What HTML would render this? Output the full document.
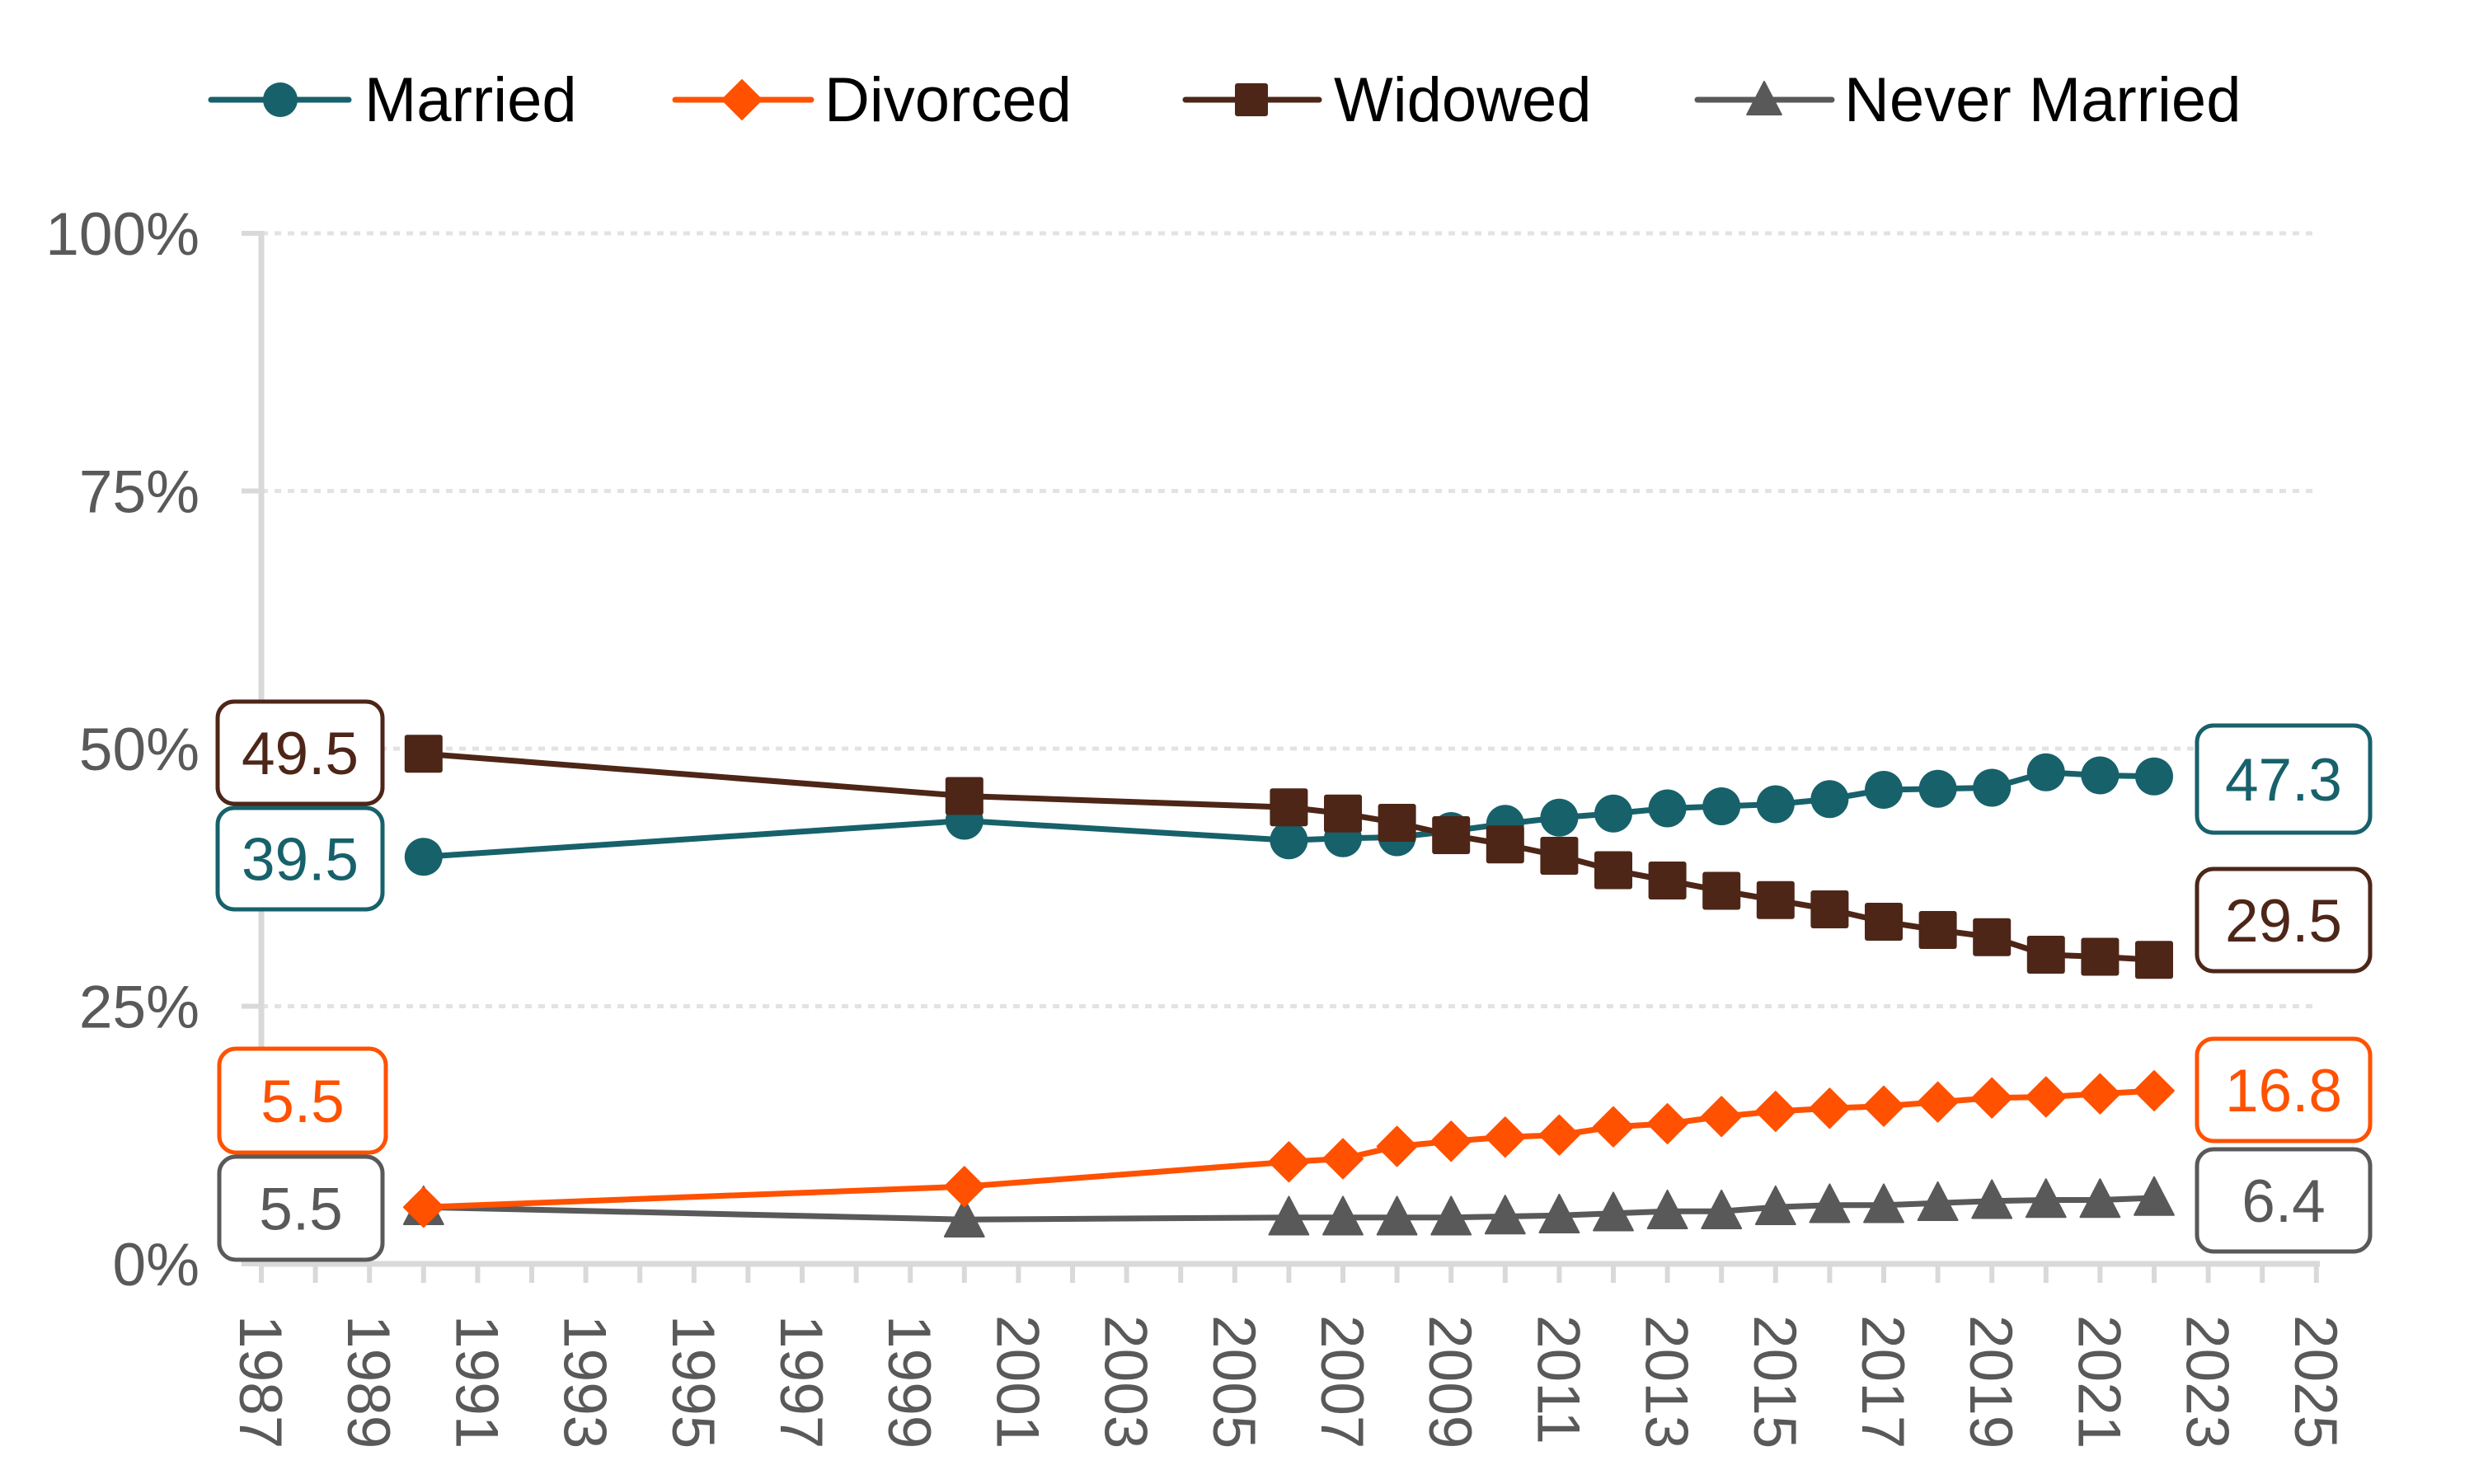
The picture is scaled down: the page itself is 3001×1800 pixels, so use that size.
<!DOCTYPE html>
<html><head><meta charset="utf-8"><style>
html,body{margin:0;padding:0;background:#fff}
svg{display:block}
text{font-family:"Liberation Sans",Arial,sans-serif}
</style></head><body>
<svg id="c" xmlns="http://www.w3.org/2000/svg" width="3001" height="1800" viewBox="0 0 3001 1800">
<rect width="3001" height="1800" fill="#fff"/>
<g id="grid"></g>
<g id="axes"></g>
<g id="series"></g>
<g id="labels"></g>
<g id="legend"></g>
</svg>
<script>
const NS="http://www.w3.org/2000/svg";
function el(p,tag,attrs,txt){const e=document.createElementNS(NS,tag);for(const k in attrs)e.setAttribute(k,attrs[k]);if(txt!==undefined)e.textContent=txt;document.getElementById(p).appendChild(e);return e;}
const X0=317,PX=65.6,Y0=1533,PY=12.5;
const xf=y=>X0+(y-1987)*PX, yf=v=>Y0-v*PY;
// grid
[25,50,75,100].forEach(v=>{el("grid","line",{x1:X0,x2:2811,y1:yf(v),y2:yf(v),stroke:"#e3e3e3","stroke-width":5,"stroke-dasharray":"8 8"});});
[0,25,50,75,100].forEach(v=>{el("axes","text",{x:242,y:yf(v)+26,"text-anchor":"end","font-size":73,fill:"#595959"},v+"%");
 el("axes","line",{x1:293,x2:X0,y1:yf(v),y2:yf(v),stroke:"#d9d9d9","stroke-width":6});});
el("axes","line",{x1:X0,x2:X0,y1:280,y2:Y0,stroke:"#d9d9d9","stroke-width":7});
el("axes","line",{x1:X0,x2:2814,y1:Y0,y2:Y0,stroke:"#d9d9d9","stroke-width":7});
for(let y=1987;y<=2025;y++){el("axes","line",{x1:xf(y),x2:xf(y),y1:Y0,y2:1556,stroke:"#d9d9d9","stroke-width":6});}
for(let y=1987;y<=2025;y+=2){el("axes","text",{transform:`translate(${xf(y)-26},1595) rotate(90)`,"font-size":73,fill:"#595959"},String(y));}
const yrs=[1990,2000,2006,2007,2008,2009,2010,2011,2012,2013,2014,2015,2016,2017,2018,2019,2020,2021,2022];
const S={
 m:{c:"#17616B",shape:"circle",d:[39.5,43.0,41.1,41.3,41.4,42.0,42.7,43.3,43.7,44.2,44.4,44.6,45.1,46.0,46.1,46.2,47.7,47.4,47.3]},
 w:{c:"#4D2618",shape:"square",d:[49.5,45.4,44.3,43.7,42.8,41.6,40.7,39.6,38.2,37.2,36.2,35.3,34.4,33.2,32.4,31.7,30.0,29.8,29.5]},
 d:{c:"#FF5100",shape:"diamond",d:[5.5,7.5,9.9,10.2,11.4,11.9,12.3,12.5,13.3,13.6,14.3,14.8,15.1,15.3,15.7,16.1,16.2,16.5,16.8]},
 n:{c:"#595959",shape:"tri",d:[5.5,4.3,4.5,4.5,4.5,4.5,4.6,4.7,4.9,5.1,5.1,5.5,5.7,5.7,5.9,6.1,6.2,6.2,6.4]}
};
function marker(g,shape,x,y,c,s){
 if(shape=="circle")el(g,"circle",{cx:x,cy:y,r:s*0.5,fill:c});
 else if(shape=="square")el(g,"rect",{x:x-s/2,y:y-s/2,width:s,height:s,rx:3,fill:c});
 else if(shape=="diamond")el(g,"path",{d:`M${x} ${y-s*0.52}L${x+s*0.52} ${y}L${x} ${y+s*0.52}L${x-s*0.52} ${y}Z`,fill:c,"stroke-linejoin":"round",stroke:c,"stroke-width":2});
 else el(g,"path",{d:`M${x} ${y-s*0.55}L${x+s*0.52} ${y+s*0.45}L${x-s*0.52} ${y+s*0.45}Z`,fill:c,stroke:c,"stroke-width":2,"stroke-linejoin":"round"});
}
["n","d","m","w"].forEach(k=>{const s=S[k];
 el("series","polyline",{points:yrs.map((y,i)=>xf(y)+","+yf(s.d[i])).join(" "),fill:"none",stroke:s.c,"stroke-width":7,"stroke-linejoin":"round"});
 yrs.forEach((y,i)=>marker("series",s.shape,xf(y),yf(s.d[i]),s.c,46));});
// label boxes
function box(x1,y1,x2,y2,c,t){el("labels","rect",{x:x1,y:y1,width:x2-x1,height:y2-y1,rx:20,fill:"#fff",stroke:c,"stroke-width":5});
 el("labels","text",{x:(x1+x2)/2,y:(y1+y2)/2+26,"text-anchor":"middle","font-size":73,fill:c},t);}
box(264,851,464,975,S.w.c,"49.5");
box(264,980,464,1103,S.m.c,"39.5");
box(266,1272,468,1398,S.d.c,"5.5");
box(266,1403,464,1528,S.n.c,"5.5");
box(2665,880,2875,1010,S.m.c,"47.3");
box(2665,1054,2875,1178,S.w.c,"29.5");
box(2665,1260,2875,1384,S.d.c,"16.8");
box(2665,1394,2875,1518,S.n.c,"6.4");
// legend
[[256,423,340,442,"m","Married"],[819,984,900,1000,"d","Divorced"],[1438,1600,1518,1618,"w","Widowed"],[2059,2222,2140,2237,"n","Never Married"]].forEach(a=>{
 const s=S[a[4]];el("legend","line",{x1:a[0],x2:a[1],y1:121,y2:121,stroke:s.c,"stroke-width":7,"stroke-linecap":"round"});
 marker("legend",s.shape,a[2],121,s.c,a[4]=="m"?42:(a[4]=="d"?46:40));
 el("legend","text",{x:a[3],y:147,"font-size":76,fill:"#000"},a[5]);});
</script>
</body></html>
